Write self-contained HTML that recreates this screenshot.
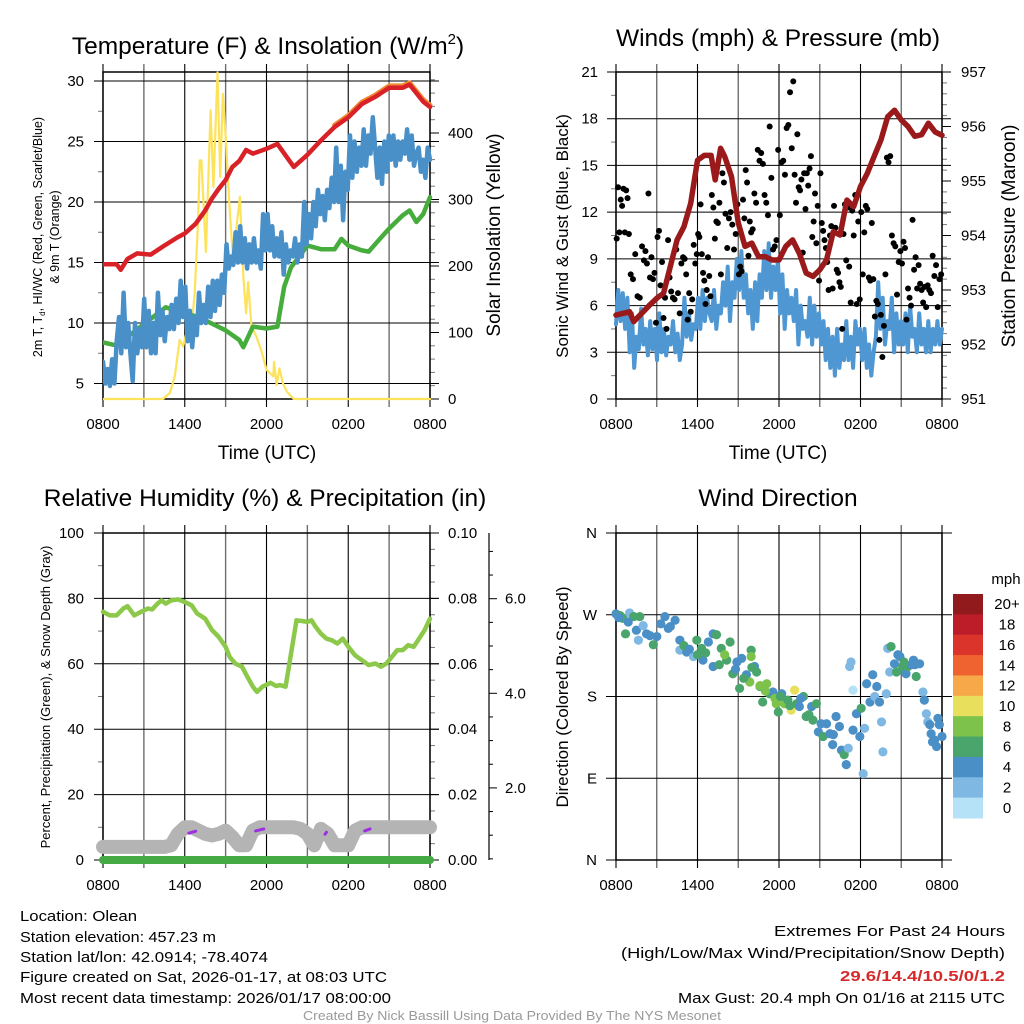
<!DOCTYPE html>
<html><head><meta charset="utf-8"><style>
html,body{margin:0;padding:0;background:#fff;}
svg{display:block;font-family:"Liberation Sans",sans-serif;}
</style></head><body>
<svg id="root" xmlns="http://www.w3.org/2000/svg" width="1024" height="1024" viewBox="0 0 1024 1024">
<rect width="1024" height="1024" fill="#fff"/>
<g id="g1"></g>
<g id="g2"></g>
<g id="g3"></g>
<g id="g4"></g>
<text x="268" y="54" font-size="24.5" text-anchor="middle">Temperature (F) &amp; Insolation (W/m<tspan font-size="15" dy="-10">2</tspan><tspan dy="10">)</tspan></text>
<text x="778" y="46" font-size="24.5" text-anchor="middle">Winds (mph) &amp; Pressure (mb)</text>
<text x="265" y="506" font-size="24.5" text-anchor="middle">Relative Humidity (%) &amp; Precipitation (in)</text>
<text x="778" y="506" font-size="24.5" text-anchor="middle">Wind Direction</text>
<text x="267" y="459" font-size="19" text-anchor="middle">Time (UTC)</text>
<text x="778" y="459" font-size="19" text-anchor="middle">Time (UTC)</text>
<text transform="translate(42,237) rotate(-90)" font-size="12.5" text-anchor="middle">2m T, T<tspan font-size="8" dy="3">d</tspan><tspan dy="-3">, HI/WC (Red, Green, Scarlet/Blue)</tspan></text>
<text transform="translate(59,237) rotate(-90)" font-size="12.5" text-anchor="middle">&amp; 9m T (Orange)</text>
<text transform="translate(500,235) rotate(-90)" font-size="19" text-anchor="middle">Solar Insolation (Yellow)</text>
<text transform="translate(568,236) rotate(-90)" font-size="17" text-anchor="middle">Sonic Wind &amp; Gust (Blue, Black)</text>
<text transform="translate(1015,236) rotate(-90)" font-size="19" text-anchor="middle">Station Pressure (Maroon)</text>
<text transform="translate(50,697) rotate(-90)" font-size="13" text-anchor="middle">Percent, Precipitation (Green), &amp; Snow Depth (Gray)</text>
<text transform="translate(568,697) rotate(-90)" font-size="17" text-anchor="middle">Direction (Colored By Speed)</text>
<g font-size="15">
<text x="20" y="921" textLength="117" lengthAdjust="spacingAndGlyphs">Location: Olean</text>
<text x="20" y="942" textLength="196" lengthAdjust="spacingAndGlyphs">Station elevation: 457.23 m</text>
<text x="20" y="962" textLength="248" lengthAdjust="spacingAndGlyphs">Station lat/lon: 42.0914; -78.4074</text>
<text x="20" y="982" textLength="367" lengthAdjust="spacingAndGlyphs">Figure created on Sat, 2026-01-17, at 08:03 UTC</text>
<text x="20" y="1003" textLength="371" lengthAdjust="spacingAndGlyphs">Most recent data timestamp: 2026/01/17 08:00:00</text>
</g>
<g font-size="15">
<text x="774" y="936" textLength="231" lengthAdjust="spacingAndGlyphs">Extremes For Past 24 Hours</text>
<text x="621" y="958" textLength="384" lengthAdjust="spacingAndGlyphs">(High/Low/Max Wind/Precipitation/Snow Depth)</text>
<text x="840" y="981" font-weight="bold" fill="#d62a2a" textLength="165" lengthAdjust="spacingAndGlyphs">29.6/14.4/10.5/0/1.2</text>
<text x="678" y="1003" textLength="327" lengthAdjust="spacingAndGlyphs">Max Gust: 20.4 mph On 01/16 at 2115 UTC</text>
</g>
<text x="303" y="1020" font-size="12.5" fill="#999" textLength="418" lengthAdjust="spacingAndGlyphs">Created By Nick Bassill Using Data Provided By The NYS Mesonet</text>
</svg>
<script>
// ---------- DATA ----------
const xTickLabels = ["0800","1400","2000","0200","0800"];
// Panel 1 (hours since 0800, values)
const redHours = [0,1,1.3,1.8,2.5,3.5,4.5,5.5,6,6.8,7.5,8,8.5,9,9.5,10,10.5,11,12,12.8,14,15,16,17,18,19,20,21,22,22.5,23,23.5,24];
const redTemp = [14.85,14.85,14.4,15.3,15.75,15.65,16.4,17.1,17.4,18.2,19.3,20.3,21.1,21.8,22.9,23.4,24.3,24.0,24.4,24.8,22.9,23.9,25.1,26.2,27.0,28.1,28.7,29.45,29.45,29.7,29.0,28.3,27.85];
const greenHours = [0,1,1.5,4.6,6,7,8,9,10,10.3,11,12,12.8,13.3,13.8,15,16,17,17.5,18,19,19.5,20,21,22,22.5,23,23.5,24];
const greenDew = [8.4,8.15,8.6,11.3,10.8,10.5,9.95,9.4,8.6,8.0,9.7,9.55,9.7,13.0,14.6,16.4,16.1,16.1,16.95,16.4,16.0,15.9,16.55,17.8,18.9,19.3,18.35,19.0,20.4];
const blueWindChill = [
6.8,5.0,6.2,4.8,7.0,5.0, 8.5,10.5,7.5,12.5,8,10, 7.5,5.2,10,7.5,9.5,8, 12,8,11,7.5,10,7.5,
12.5,9,11,8.5,10.5,9.5, 11.5,9.5,12,10,13.5,10.5, 13,8.5,11,8,10.5,9, 12.5,10,11.5,10,13,10.5,
13.5,11,13.5,11.5,14,12.5, 16.5,14.5,15.5,14.8,17.5,15, 18,15,17,14.5,16.5,15, 17,15,16,14.5,19,16,
19,16,18,15.5,17,15.5, 17.5,14,16.5,15,16,15.5, 17,15,16.5,15.5,20,16.5, 19,17,20,18,21,19,
20.5,18.5,21,19.5,22,20, 24.5,20,23,18.5,22.5,21, 25.5,22,25,22.5,24.5,23, 26,23,25.5,24,27,24.5,
22,24.5,21.5,25,22.5,25.5, 23.5,25.5,23,25,23.5,25, 24,26,23.5,25.5,23,24, 24.5,22.5,23.5,22,24.5,23.5];
const solarHours = [0,4.4,4.9,5.27,5.63,5.88,6.12,6.5,6.73,6.98,7.1,7.22,7.55,7.9,8.1,8.4,8.6,8.8,9.05,9.3,9.55,9.8,10.05,10.3,10.5,10.65,10.9,11.25,11.6,12.0,12.5,12.55,12.75,12.95,13.2,13.5,14,24];
const solarWm2 = [0,0,9,34,89,79,99,109,159,269,359,359,221,434,319,491,334,459,379,284,209,259,304,184,129,176,109,94,74,44,34,56,21,46,24,11,0,0];
// Panel 2
const windMph = [
4.8,7.0,5.0,6.8,4.5,6.5, 3.0,5.5,2.0,4.0,3.2,5.8, 3.5,4.5,2.8,5.0,3.2,4.5, 2.5,5.5,3.0,4.5,2.8,4.0,
3.5,5.0,3.0,4.2,2.5,3.5, 6.5,4.0,5.5,3.8,4.8,4.5, 6.5,4.5,7.0,5.0,6.5,5.5, 5.0,7.0,4.5,6.0,5.5,7.5,
6.0,8.5,5.0,7.5,6.5,9.0, 7.0,9.5,6.5,8.0,5.5,7.0, 4.5,7.5,5.0,8.0,6.5,9.5, 7.0,10.0,6.5,8.5,7.0,9.0,
5.5,8.0,4.5,7.0,5.5,6.5, 5.0,7.0,3.5,6.0,4.5,5.0, 4.0,6.5,3.5,6.0,4.0,5.5, 3.5,5.0,2.5,4.5,2.0,4.0,
1.5,4.5,2.0,3.5,2.5,5.0, 2.5,4.0,2.0,5.0,3.5,4.5, 2.5,4.5,2.0,3.5,1.5,3.0, 4.0,7.5,4.5,6.5,3.5,5.0,
4.5,6.5,3.0,5.5,3.5,5.0, 3.5,5.5,3.0,6.0,4.0,4.5, 3.0,5.5,3.5,4.5,3.0,5.0, 3.0,4.5,3.5,5.0,3.5,4.5];
const gustByHour = [
[10.3,13.6,10.7,12.8,12.4,13.5,10.7,13.4,12.9,10.6],[8.0,7.7,9.3,6.6,6.5,9.8],[8.9,9.5,8.7,13.2,7.8,9.1,7.7,8.1,4.9],
[10.4,10.8,7.3,8.8,5.2,6.5,4.5,10.2,7.8],[6.9,6.5,6.4,9.6,6.8,5.5,8.7,9.1],[9.0,8.0,5.1,6.8,5.6,6.4,9.9,8.7,9.3],
[10.6,10.4,12.5,9.3,8.1,7.6,6.1,7.0,9.1,7.9,6.6],[13.1,12.3,10.3,11.4,11.3,12.6,8.0,14.5,13.9],[11.9,9.7,11.6,12.0,11.2,9.6,10.6,12.5],
[8.0,8.5,8.2,12.8,11.6,14.7,13.9,9.2,11.4,10.7],[10.9,13.2,12.6,16.0,15.3,15.8,15.1,13.1],[12.6,11.8,17.5,14.2,9.6,9.8,10.2,16.0],
[11.8,15.2,15.3,14.4,17.4,17.6,19.7,16.1],[20.4,14.4,12.6,17.0,13.6,13.4,14.1,9.4,14.5,12.2],[14.5,13.7,14.8,15.6,10.4,11.4,13.2,10.0,12.4,7.6],
[14.5,11.3,10.8,10.2,9.7,8.8,7.0,10.5,11.1,7.1],[12.4,11.0,8.3,8.1,7.5,7.2,4.5,10.6,12.5,8.9],[12.3,8.5,6.2,12.1,10.5,13.1,6.1,11.4,6.4],
[12.0,8.0,10.7,12.4,12.2,7.8,7.6,11.3,7.7],[5.3,6.3,6.1,3.8,5.4,2.7,4.7,8.0,15.5],[15.2,15.6,10.5,10.0,9.8,6.7,8.8,9.5],
[8.7,10.1,9.7,5.1,7.1,6.5,6.0,11.5,8.3],[9.1,7.1,8.6,7.4,7.0,6.2,7.2,5.9,7.3],[7.0,6.8,9.2,7.9,8.6,5.9,7.7,8.0]];
const presHours = [0,1,1.3,2,2.5,3,3.5,4,4.5,5,5.5,6,6.5,7,7.3,7.7,8,8.5,9,9.5,10,10.5,11,11.5,12,12.5,13,13.5,14,14.5,15,15.5,16,16.5,17,17.5,18,18.5,19,19.5,20,20.5,21,21.5,22,22.5,23,23.5,24];
const presMb = [952.54,952.6,952.42,952.6,952.73,952.85,952.94,953.43,953.92,954.16,954.59,955.38,955.47,955.47,955.02,955.6,955.45,955.08,954.23,953.8,953.86,953.61,953.61,953.55,953.55,953.8,953.92,953.67,953.31,953.25,953.37,953.55,954.07,954.01,954.65,954.53,954.9,955.14,955.45,955.75,956.18,956.3,956.12,956.0,955.82,955.85,956.06,955.9,955.84];
// Panel 3
const rhHours = [0,0.5,1,1.5,1.8,2.3,2.8,3.3,3.6,4,4.3,4.6,5,5.5,6,6.5,6.9,7.5,8,8.5,9,9.3,9.7,10.2,10.6,11,11.3,11.7,12.3,12.7,13,13.4,13.8,14.2,14.6,15,15.3,15.6,16,16.4,16.8,17.2,17.6,18,18.5,19,19.5,20,20.4,20.8,21.2,21.6,22,22.4,22.8,23.2,23.6,24];
const rhPct = [75.9,74.8,74.8,76.9,77.6,74.8,75.9,76.9,76.6,78.4,79.4,78.4,79.4,79.7,78.9,77.9,75.4,73.8,70.3,68.2,65.2,62.1,60.1,59.1,56.0,53.0,51.4,53.0,54.2,53.2,53.5,53.0,63.1,73.3,73.1,72.8,73.3,71.3,69.2,67.7,67.2,66.2,67.7,65.2,62.6,61.1,59.6,60.1,59.1,60.1,62.1,64.2,64.2,65.7,65.2,67.7,70.3,73.8];
const snowDepthPct = [4,4,4,4,4,4,4,4,4,4,4.5,8,10,10,9,8,7.5,8,9,7,4.5,4.5,9,10,10,10,10,10,10,9.5,8,4.5,9.5,8,4.5,4.5,4.5,9,10,10,10,10,10,10,10,10,10,10,10];
const precipIn = [0,0];
const purpleSegStart = [6.3,11.2,16.3,19.2];
const purpleSegEnd = [6.8,11.8,16.4,19.6];
const purpleSegPct = [8.8,9.5,8.5,9.5];
const rh1Ticks = ["0.00","0.02","0.04","0.06","0.08","0.10"];
const rh2Ticks = ["2.0","4.0","6.0"];
// Panel 4
const dirHours = [0,0.3,0.5,1.0,1.3,0.7,1.75,1.5,1.65,2.25,2.75,3.0,3.6,3.85,4.35,4.7,4.7,5.2,5.7,5.95,6.3,6.4,6.8,7.15,7.15,7.4,7.75,8.15,8.4,8.6,8.9,9.25,9.1,9.6,9.85,9.95,9.95,10.2,10.35,10.6,10.8,11.1,11.3,11.55,11.8,11.95,12.2,12.4,12.65,12.9,13.15,13.3,13.5,13.8,14.0,14.4,14.5,14.75,14.9,15.25,15.5,15.75,15.95,16.2,16.45,16.6,16.8,16.95,17.1,17.2,17.3,17.45,17.45,17.7,17.95,18.05,18.2,18.3,18.45,18.7,18.9,19.05,19.2,19.4,19.55,19.65,19.9,20.0,20.15,20.25,20.5,20.65,20.75,20.9,21.1,21.35,21.5,21.75,22.0,22.1,22.35,22.6,22.7,22.85,22.95,23.1,23.2,23.45,23.6,23.7,23.8,24,
0.2,0.9,2.0,2.5,3.3,4.0,5.0,5.4,6.0,6.6,7.6,8.0,8.8,9.4,10.0,10.6,11.0,11.7,12.1,12.8,13.6,14.2,15.1,16.0,21.2,21.9,23.3];
const dirDeg = [271,269,266,272,268,249,268,253,242,249,237,246,268,255,264,242,231,229,224,242,233,220,240,249,213,248,233,220,240,205,218,222,189,204,196,231,224,213,207,191,174,194,183,185,172,163,183,172,176,165,187,172,169,180,158,169,154,172,141,136,150,139,127,158,147,121,116,105,123,213,218,187,143,161,136,167,95,145,194,174,204,180,191,174,152,119,183,233,207,235,216,207,226,224,213,205,213,215,215,202,216,185,176,161,152,149,139,132,125,156,149,136,
267,262,258,247,260,257,236,232,226,228,215,226,210,200,212,192,186,178,180,170,178,160,150,138,218,220,130];
const dirSpd = [4,6,6,2,6,6,6,4,2,4,6,4,4,4,4,4,2,4,2,6,6,4,4,4,4,6,6,6,6,6,4,4,6,4,8,6,8,4,6,6,6,8,6,4,8,6,4,8,6,10,10,6,4,6,6,4,6,6,4,6,4,4,4,4,4,4,6,4,2,2,2,0,4,4,4,6,2,2,4,4,4,2,4,4,2,2,2,2,2,6,4,6,4,4,6,4,6,4,4,6,4,2,4,2,2,4,4,4,4,4,4,4,
4,4,2,4,4,4,6,4,6,6,6,8,4,6,6,8,8,8,6,6,4,6,4,4,6,4,4];
const speedBinLabels = ["20+","18","16","14","12","10","8","6","4","2","0"];
const speedBinColors = ["#911a1d","#bd1d29","#db352b","#ef6330","#f7a848","#e8e05c","#7cc24b","#49a56c","#4a8fc6","#7fb9e3","#b6e2f7"];

// ---------- HELPERS ----------
const NS = "http://www.w3.org/2000/svg";
function mk(parent, tag, attrs){ const e=document.createElementNS(NS,tag); for(const k in attrs) e.setAttribute(k,attrs[k]); parent.appendChild(e); return e; }
function pathFrom(xsArr, ysArr){ let d=""; for(let i=0;i<xsArr.length;i++){ d+=(i?"L":"M")+xsArr[i].toFixed(1)+","+ysArr[i].toFixed(1);} return d; }
function evenHours(n){ const a=[]; for(let i=0;i<n;i++) a.push(i*24/(n-1)); return a; }

function frame(g, P, name){
  const xs = h => P.x0 + h/24*(P.x1-P.x0);
  for(let h=0; h<=24; h+=3){
    const major = h%6===0;
    const l = mk(g,"line",{x1:xs(h),x2:xs(h),y1:P.y0-8,y2:P.y1+8,stroke:major?"#000":"#6e6e6e","stroke-width":major?1.1:1.4});
    
    
    if(major){
      const t = mk(g,"text",{x:xs(h),y:P.y1+30,"font-size":15,"text-anchor":"middle"});
      t.textContent = xTickLabels[h/6];
      
      
    }
  }
  return xs;
}
function box(g,P,name){
  const r = mk(g,"rect",{x:P.x0,y:P.y0,width:P.x1-P.x0,height:P.y1-P.y0,fill:"none",stroke:"#000","stroke-width":1.5});
  
  
}
function hgrid(g,P,y,name,ext){
  const l = mk(g,"line",{x1:P.x0-(ext||9),x2:P.x1+(ext||9),y1:y,y2:y,stroke:"#000","stroke-width":1});
  
  
}
function tickLabel(g,x,y,txt,anchor,name,fs){
  const t = mk(g,"text",{x:x,y:y+5,"font-size":fs||15,"text-anchor":anchor});
  t.textContent = txt;
  
  
}
function minorTick(g,x1,x2,y,name){
  const l = mk(g,"line",{x1:x1,x2:x2,y1:y,y2:y,stroke:"#777","stroke-width":1});
  
  
}
function series(g, d, color, w, name, extra){
  const p = mk(g,"path",Object.assign({d:d,fill:"none",stroke:color,"stroke-width":w,"stroke-linejoin":"round","stroke-linecap":"round"},extra||{}));
  
  
  return p;
}

// ---------- PANEL 1 ----------
(function(){
  const g=document.getElementById("g1");
  const P={x0:103,x1:430,y0:72,y1:399};
  const xs=frame(g,P,"temperature");
  const yL=v=>P.y1-(v-3.72)*12.1, yR=v=>P.y1-v*0.665;
  for(let v=5;v<=30;v+=5){ hgrid(g,P,yL(v),"temperature-y-gridline"); tickLabel(g,84,yL(v),String(v),"end","temperature-y-tick-label"); }
  for(let v=7.5;v<30;v+=5) minorTick(g,P.x0-5,P.x0,yL(v),"temperature-y-minor-tick");
  for(let v=0;v<=480;v+=20){ const maj=v%100===0; const l=mk(g,"line",{x1:P.x1,x2:P.x1+(maj?9:5),y1:yR(v),y2:yR(v),stroke:maj?"#000":"#777","stroke-width":1});   if(maj) tickLabel(g,448,yR(v),String(v),"start","insolation-y-tick-label"); }
  box(g,P,"temperature");
  const cp=mk(g,"clipPath",{id:"c1"}); mk(cp,"rect",{x:P.x0,y:P.y0-4,width:P.x1-P.x0+4,height:P.y1-P.y0+6});
  const pg=mk(g,"g",{"clip-path":"url(#c1)"});
  
  
  series(pg,pathFrom(solarHours.map(xs),solarWm2.map(yR)),"#fde35c",2.2,"insolation-line");
  const gh=greenHours.map(xs), gv=greenDew.map(yL);
  series(pg,pathFrom(gh,gv),"#46ac3c",4.5,"dewpoint-line");
  const bh=evenHours(blueWindChill.length);
  series(pg,pathFrom(bh.map(xs),blueWindChill.map(yL)),"#4a90c8",4.5,"windchill-line");
  const oi=redHours.findIndex(h=>h>=17);
  series(pg,pathFrom(redHours.slice(oi).map(xs),redTemp.slice(oi).map(v=>yL(v+0.15))),"#f08a32",5,"9m-temperature-line");
  series(pg,pathFrom(redHours.map(xs),redTemp.map(yL)),"#d92228",4.5,"temperature-line");
})();

// ---------- PANEL 2 ----------
(function(){
  const g=document.getElementById("g2");
  const P={x0:616,x1:942,y0:72,y1:399};
  const xs=frame(g,P,"winds");
  const yL=v=>P.y1-v*(327/21), yR=p=>P.y1-(p-951)*(327/6);
  for(let v=0;v<=21;v+=3){ hgrid(g,P,yL(v),"winds-y-gridline"); tickLabel(g,598,yL(v),String(v),"end","winds-y-tick-label"); }
  for(let v=1.5;v<21;v+=3) minorTick(g,P.x0-5,P.x0,yL(v),"winds-y-minor-tick");
  for(let i=0;i<=30;i++){ const p=951+i*0.2; const maj=i%5===0; const l=mk(g,"line",{x1:P.x1,x2:P.x1+(maj?9:5),y1:yR(p),y2:yR(p),stroke:maj?"#000":"#777","stroke-width":1});   if(maj) tickLabel(g,961,yR(p),String(951+i/5),"start","pressure-y-tick-label"); }
  box(g,P,"winds");
  const wh=evenHours(windMph.length);
  series(g,pathFrom(wh.map(xs),windMph.map(yL)),"#4f97d2",4,"wind-speed-line");
  const dg=mk(g,"g",{fill:"#000"});
  
  
  gustByHour.forEach((arr,h)=>{ arr.forEach((v,j)=>{ const c=mk(dg,"circle",{cx:xs(h+(j+0.5)/arr.length),cy:yL(v),r:3});
    
     }); });
  series(g,pathFrom(presHours.map(xs),presMb.map(yR)),"#9a1a1c",5.5,"pressure-line");
})();

// ---------- PANEL 3 ----------
(function(){
  const g=document.getElementById("g3");
  const P={x0:103,x1:430,y0:533,y1:860};
  const xs=frame(g,P,"humidity");
  const y=v=>P.y1-v*3.27, yP=v=>P.y1-v*3270, y2=v=>882.5-v*47.3;
  for(let v=0;v<=100;v+=20){ hgrid(g,P,y(v),"humidity-y-gridline"); tickLabel(g,84,y(v),String(v),"end","humidity-y-tick-label"); }
  for(let v=10;v<100;v+=20) minorTick(g,P.x0-5,P.x0,y(v),"humidity-y-minor-tick");
  for(let i=0;i<=20;i++){ const v=i*0.005; const maj=i%4===0; const l=mk(g,"line",{x1:P.x1,x2:P.x1+(maj?9:5),y1:yP(v),y2:yP(v),stroke:maj?"#000":"#777","stroke-width":1});   if(maj) tickLabel(g,448,yP(v),rh1Ticks[i/4],"start","precip-y-tick-label"); }
  const ax=mk(g,"line",{x1:489,x2:489,y1:533,y2:860,stroke:"#000","stroke-width":1.2});
  
  
  for(let v=0.5;v<=7;v+=0.5){ const yy=y2(v); if(yy<533||yy>860) continue; const maj=(v%2===0); const l=mk(g,"line",{x1:489,x2:489+(maj?8:4),y1:yy,y2:yy,stroke:"#000","stroke-width":1});   if(maj) tickLabel(g,505,yy,rh2Ticks[v/2-1],"start","snow-depth-tick-label"); }
  box(g,P,"humidity");
  const sh=evenHours(snowDepthPct.length);
  series(g,pathFrom(sh.map(xs),snowDepthPct.map(y)),"#b4b4b4",14,"snow-depth-line");
  for(let i=0;i<purpleSegStart.length;i++){ series(g,"M"+xs(purpleSegStart[i])+","+(y(purpleSegPct[i])+2)+"L"+xs(purpleSegEnd[i])+","+y(purpleSegPct[i]),"#9b30e0",3,"purple-segment"); }
  series(g,pathFrom(precipIn.map((v,i)=>xs(i*24)),precipIn.map(yP)),"#45aa44",8,"precipitation-line");
  series(g,pathFrom(rhHours.map(xs),rhPct.map(y)),"#8cc84a",4.5,"humidity-line");
})();

// ---------- PANEL 4 ----------
(function(){
  const g=document.getElementById("g4");
  const P={x0:616,x1:942,y0:533,y1:860};
  const xs=frame(g,P,"direction");
  const y=d=>P.y1-d*(327/360);
  const lab=["N","E","S","W","N"];
  for(let i=0;i<=4;i++){ const d=i*90; hgrid(g,P,y(d),"direction-y-gridline",10); tickLabel(g,597,y(d),lab[i],"end","direction-y-tick-label"); }
  box(g,P,"direction");
  const bin=s=>{ const k=Math.min(10,Math.floor(s/2)); return speedBinColors[10-k]; };
  const dg=mk(g,"g",{});
  
  
  for(let i=0;i<dirHours.length;i++){ const c=mk(dg,"circle",{cx:xs(dirHours[i]),cy:y(dirDeg[i]),r:4.6,fill:bin(dirSpd[i])});
    
     }
  const cb=mk(g,"g",{});
  
  
  const bh=(818-594)/11;
  for(let i=0;i<11;i++){
    const r=mk(cb,"rect",{x:953,y:594+i*bh,width:30,height:bh+0.5,fill:speedBinColors[i]});
    
    
    tickLabel(cb,1007,594+i*bh+bh/2,speedBinLabels[i],"middle","colorbar-label",15);
  }
  tickLabel(cb,1006,579,"mph","middle","colorbar-title",15);
})();
</script>
</body></html>
